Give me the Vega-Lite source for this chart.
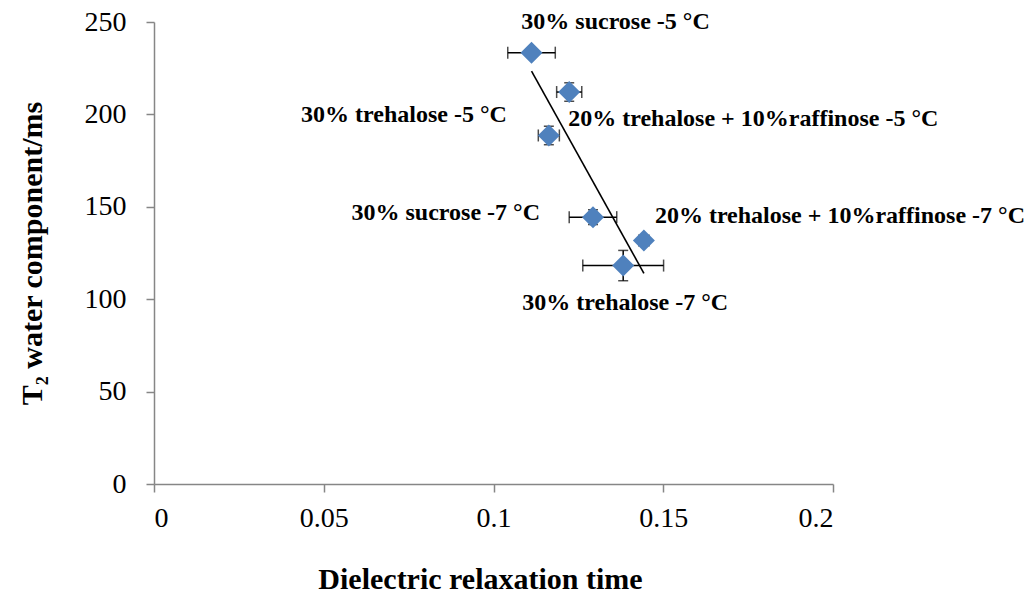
{
  "$schema": "https://vega.github.io/schema/vega-lite/v6.json",
  "autosize": "none",
  "width": 679,
  "height": 462,
  "padding": {"left": 154, "top": 22, "right": 202, "bottom": 110},
  "background": "white",
  "config": {
    "view": {"stroke": null},
    "font": "Times New Roman, Liberation Serif, serif",
    "axis": {
      "grid": false,
      "domainColor": "#868686",
      "domainWidth": 1.5,
      "tickColor": "#868686",
      "tickWidth": 1.5,
      "tickSize": 8,
      "labelFont": "Times New Roman, Liberation Serif, serif",
      "labelFontSize": 28,
      "labelColor": "black",
      "titleFont": "Times New Roman, Liberation Serif, serif",
      "titleFontSize": 30,
      "titleFontWeight": "bold",
      "titleColor": "black"
    }
  },
  "data": {
    "values": [
      {"label": "30% sucrose -5 °C", "x": 0.1112, "xe": 0.0070, "y": 233.4, "ye": 2},
      {"label": "20% trehalose + 10%raffinose -5 °C", "x": 0.1223, "xe": 0.0037, "y": 212.1, "ye": 5},
      {"label": "30% trehalose -5 °C", "x": 0.1163, "xe": 0.0031, "y": 188.6, "ye": 5},
      {"label": "30% sucrose -7 °C", "x": 0.1293, "xe": 0.0070, "y": 144.4, "ye": 4},
      {"label": "20% trehalose + 10%raffinose -7 °C", "x": 0.1443, "xe": 0.0015, "y": 131.8, "ye": 2},
      {"label": "30% trehalose -7 °C", "x": 0.1382, "xe": 0.0119, "y": 118.2, "ye": 8.2}
    ]
  },
  "encoding": {
    "x": {
      "field": "x", "type": "quantitative",
      "scale": {"domain": [0, 0.2], "nice": false, "zero": false},
      "axis": {
        "title": "Dielectric relaxation time",
        "values": [0, 0.05, 0.1, 0.15, 0.2],
        "format": "~g",
        "labelPadding": 12,
        "titleX": 326,
        "titleY": 104,
        "titleBaseline": "alphabetic",
        "titleAnchor": null
      }
    },
    "y": {
      "field": "y", "type": "quantitative",
      "scale": {"domain": [0, 250], "nice": false},
      "axis": {
        "title": "T₂ water component/ms",
        "values": [0, 50, 100, 150, 200, 250],
        "labelPadding": 20,
        "titleX": -107,
        "titleY": 231,
        "titleBaseline": "bottom",
        "titleAngle": -90
      }
    }
  },
  "layer": [
    {
      "mark": {"type": "errorbar", "color": "black", "thickness": 1.5, "ticks": {"size": 12, "thickness": 1.5, "color": "black"}},
      "encoding": {
        "x": {"field": "x", "type": "quantitative"},
        "xError": {"field": "xe"},
        "y": {"field": "y", "type": "quantitative"}
      }
    },
    {
      "mark": {"type": "errorbar", "color": "black", "thickness": 1.5, "ticks": {"size": 10, "thickness": 1.5, "color": "black"}},
      "encoding": {
        "x": {"field": "x", "type": "quantitative"},
        "y": {"field": "y", "type": "quantitative"},
        "yError": {"field": "ye"}
      }
    },
    {
      "mark": {"type": "point", "shape": "diamond", "filled": true, "size": 484, "color": "#4F81BD", "opacity": 1},
      "encoding": {}
    },
    {
      "transform": [{"regression": "y", "on": "x"}],
      "mark": {"type": "line", "color": "black", "strokeWidth": 1.6},
      "encoding": {}
    },
    {
      "transform": [{"filter": "datum.label === '30% sucrose -5 °C'"}],
      "mark": {"type": "text", "font": "Times New Roman, Liberation Serif, serif", "fontWeight": "bold", "fontSize": 24, "align": "center", "baseline": "middle", "dx": 84, "dy": -31, "color": "black"},
      "encoding": {"text": {"field": "label"}}
    },
    {
      "transform": [{"filter": "datum.label === '20% trehalose + 10%raffinose -5 °C'"}],
      "mark": {"type": "text", "font": "Times New Roman, Liberation Serif, serif", "fontWeight": "bold", "fontSize": 24, "align": "left", "baseline": "middle", "dx": -1, "dy": 27, "color": "black"},
      "encoding": {"text": {"field": "label"}}
    },
    {
      "transform": [{"filter": "datum.label === '30% trehalose -5 °C'"}],
      "mark": {"type": "text", "font": "Times New Roman, Liberation Serif, serif", "fontWeight": "bold", "fontSize": 24, "align": "right", "baseline": "middle", "dx": -42, "dy": -20, "color": "black"},
      "encoding": {"text": {"field": "label"}}
    },
    {
      "transform": [{"filter": "datum.label === '30% sucrose -7 °C'"}],
      "mark": {"type": "text", "font": "Times New Roman, Liberation Serif, serif", "fontWeight": "bold", "fontSize": 24, "align": "right", "baseline": "middle", "dx": -53, "dy": -4, "color": "black"},
      "encoding": {"text": {"field": "label"}}
    },
    {
      "transform": [{"filter": "datum.label === '20% trehalose + 10%raffinose -7 °C'"}],
      "mark": {"type": "text", "font": "Times New Roman, Liberation Serif, serif", "fontWeight": "bold", "fontSize": 24, "align": "left", "baseline": "middle", "dx": 11, "dy": -24, "color": "black"},
      "encoding": {"text": {"field": "label"}}
    },
    {
      "transform": [{"filter": "datum.label === '30% trehalose -7 °C'"}],
      "mark": {"type": "text", "font": "Times New Roman, Liberation Serif, serif", "fontWeight": "bold", "fontSize": 24, "align": "center", "baseline": "middle", "dx": 2, "dy": 37, "color": "black"},
      "encoding": {"text": {"field": "label"}}
    }
  ]
}
